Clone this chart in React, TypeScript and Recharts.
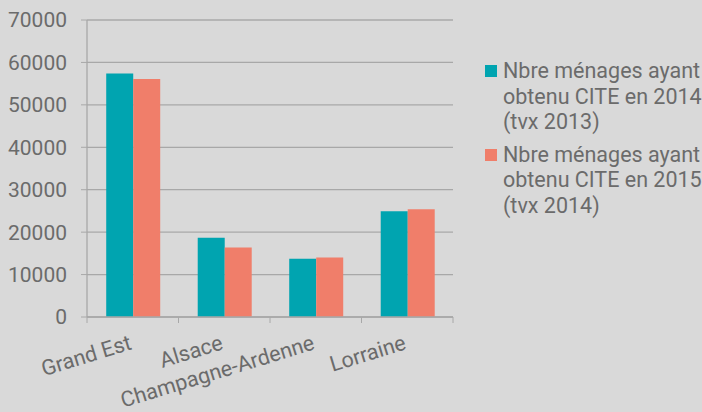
import React from "react"
import { BarChart, Bar, XAxis, YAxis, CartesianGrid } from "recharts"

const regions = ["Grand Est", "Alsace", "Champagne-Ardenne", "Lorraine"]
const menages2014 = [57400, 18700, 13700, 24900]
const menages2015 = [56100, 16400, 14000, 25400]
const yTicks = [0, 10000, 20000, 30000, 40000, 50000, 60000, 70000]
const seriesNames = [
  "Nbre ménages ayant obtenu CITE en 2014 (tvx 2013)",
  "Nbre ménages ayant obtenu CITE en 2015 (tvx 2014)",
]

const COLORS = ["#00a4b0", "#f07e6a"]
const TEXT = "#6b6b6b"
const GRID = "#a8a8a8"

const W = 702
const H = 412
const MARGIN = { top: 20, right: 249, left: 0, bottom: 0 }
const Y_WIDTH = 87
const X_HEIGHT = 95
const BAND = (W - MARGIN.right - MARGIN.left - Y_WIDTH) / regions.length

const data = regions.map((name, i) => ({
  name,
  a: menages2014[i],
  b: menages2015[i],
}))

// category labels, plus the small tick marks between categories
function RegionTick(props: any) {
  const { x, y, payload, index } = props
  const last = index === regions.length - 1
  return (
    <g>
      <line x1={x - BAND / 2} x2={x - BAND / 2} y1={y} y2={y + 6} stroke={GRID} />
      {last && <line x1={x + BAND / 2} x2={x + BAND / 2} y1={y} y2={y + 6} stroke={GRID} />}
      <g transform={`translate(${x},${y + 32})`}>
        <text textAnchor="end" transform="rotate(-17)" fill={TEXT} fontSize={21.5} fontFamily="Roboto">
          {payload.value}
        </text>
      </g>
    </g>
  )
}

function LegendBox() {
  return (
    <div
      style={{
        position: "absolute",
        left: 485,
        top: 58,
        fontFamily: "Roboto",
        fontSize: 21.5,
        color: TEXT,
        lineHeight: "25.5px",
      }}
    >
      {seriesNames.map((n, i) => (
        <div key={n} style={{ display: "flex", marginBottom: 7 }}>
          <span
            style={{
              width: 12,
              height: 12,
              background: COLORS[i],
              marginTop: 7,
              marginRight: 6,
              flex: "none",
            }}
          />
          <span style={{ width: 200 }}>{n}</span>
        </div>
      ))}
    </div>
  )
}

export default function App() {
  return (
    <div style={{ position: "absolute", left: 0, top: 0, width: W, height: H, background: "#d9d9d9" }}>
      <BarChart width={W} height={H} data={data} margin={MARGIN} barGap={0} barCategoryGap="21%">
        <CartesianGrid vertical={false} stroke={GRID} strokeWidth={1.3} />
        <XAxis
          dataKey="name"
          height={X_HEIGHT}
          interval={0}
          tickLine={false}
          tickSize={0}
          tickMargin={0}
          axisLine={{ stroke: GRID, strokeWidth: 1.3 }}
          tick={<RegionTick />}
        />
        <YAxis
          width={Y_WIDTH}
          domain={[0, 70000]}
          ticks={yTicks}
          interval={0}
          tickSize={6}
          tickMargin={14}
          axisLine={{ stroke: GRID, strokeWidth: 1.3 }}
          tickLine={{ stroke: GRID }}
          tick={{ fill: TEXT, fontSize: 21, fontFamily: "Roboto" }}
        />
        <Bar dataKey="a" name={seriesNames[0]} fill={COLORS[0]} isAnimationActive={false} />
        <Bar dataKey="b" name={seriesNames[1]} fill={COLORS[1]} isAnimationActive={false} />
      </BarChart>
      <LegendBox />
    </div>
  )
}
